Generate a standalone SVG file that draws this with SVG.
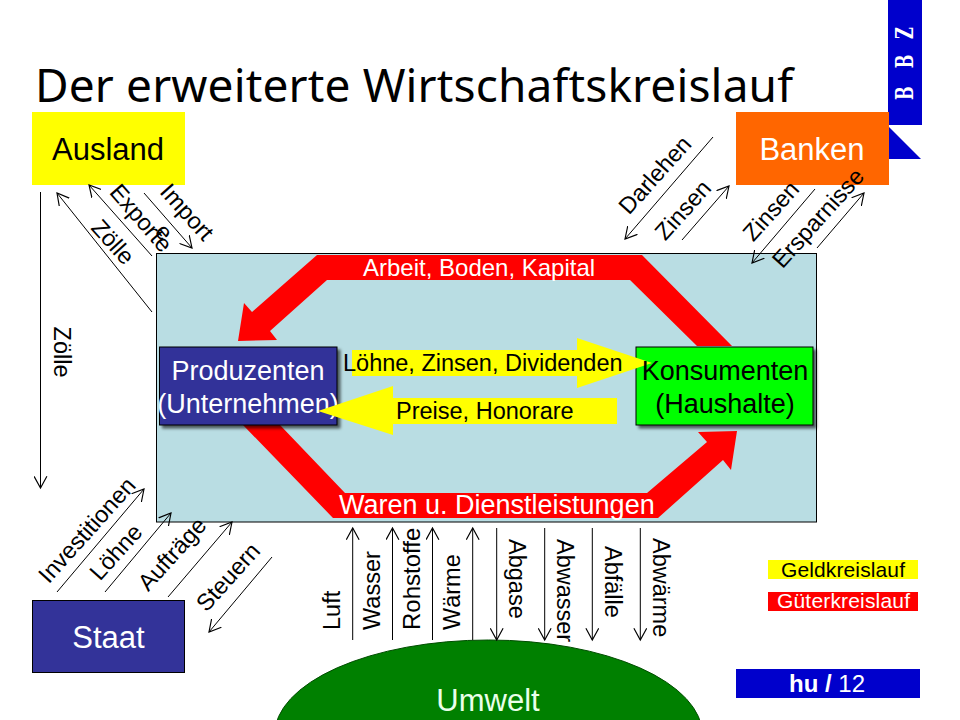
<svg xmlns="http://www.w3.org/2000/svg" width="960" height="720" viewBox="0 0 960 720">
<style>
text{font-family:"Liberation Sans",Arial,sans-serif;font-size:23.500px;fill:#000}
.big{font-size:31px;text-anchor:middle}
.mid{font-size:27px;text-anchor:middle}
.leg{font-size:21px}
.c{text-anchor:middle}
.w{fill:#fff}
.l{fill:none;stroke:#000;stroke-width:1;marker-end:url(#a)}
</style>
<defs>
<marker id="a" markerUnits="userSpaceOnUse" markerWidth="14" markerHeight="14" refX="10" refY="6" orient="auto" viewBox="0 0 12 12"><path d="M0 0.5L10 6L0 11.5" fill="none" stroke="#000" stroke-width="1"/></marker>
<filter id="s" x="-10%" y="-10%" width="125%" height="130%"><feDropShadow dx="3" dy="3" stdDeviation="1.5" flood-color="#000" flood-opacity=".6"/></filter>
</defs>
<rect width="960" height="720" fill="#fff"/>
<text id="title" x="35" y="102" style="font-family:'Noto Sans','DejaVu Sans',sans-serif;font-size:46px" textLength="758">Der erweiterte Wirtschaftskreislauf</text>
<g id="logo">
<rect x="888" y="0" width="34" height="125" fill="#0000cc"/>
<path d="M889 127L921 159H889Z" fill="#0000cc"/>
<text transform="translate(913,100) rotate(-90) scale(.65,1)" style="font-family:'DejaVu Serif',serif;font-weight:bold;font-size:25px" class="w" x="0 49 94">BBZ</text>
</g>
<g id="kreislauf">
<rect x="156.5" y="253.5" width="660" height="268.5" fill="#b9dde3" stroke="#000"/>
<path id="top-arrow" d="M317 255H642L732 346H697L630 280H327L270 331L277 340L238 341L244 303L252 312Z" fill="#f00"/>
<path id="bottom-arrow" d="M243 425H280L345 493H647L707 442L698 432L737 431L731 470L723 460L658 518H333Z" fill="#f00"/>
<text class="w" x="363" y="276" style="font-size:24px">Arbeit, Boden, Kapital</text>
<text class="w" x="339" y="514" style="font-size:27px">Waren u. Dienstleistungen</text>
</g>
<g id="produzenten">
<rect x="159.5" y="347" width="177.5" height="78" fill="#333399" stroke="#000" filter="url(#s)"/>
<text class="mid w" x="248" y="380">Produzenten</text>
<text class="mid w" x="248" y="413">(Unternehmen)</text>
</g>
<g id="konsumenten">
<rect x="636" y="347" width="177" height="78" fill="#00ff00" stroke="#000" filter="url(#s)"/>
</g>
<g id="geldstrom">
<path id="yellow-right" d="M352 350H577V338L652 363L577 388V376H352Z" fill="#ff0"/>
<path id="yellow-left" d="M617 398H393V386L318 411L393 435V424H617Z" fill="#ff0"/>
<text x="343" y="371">Löhne, Zinsen, Dividenden</text>
<text x="396" y="419">Preise, Honorare</text>
</g>
<g id="konsumenten-text">
<text class="mid" x="725" y="380">Konsumenten</text>
<text class="mid" x="725" y="413">(Haushalte)</text>
</g>
<g id="ausland"><rect x="32" y="112" width="153" height="73" fill="#ff0"/><text class="big" x="108" y="160">Ausland</text></g>
<g id="banken"><rect x="736" y="112" width="153" height="73" fill="#ff6600"/><text class="big w" x="812" y="160">Banken</text></g>
<g id="staat"><rect x="32.5" y="600.5" width="152" height="72" fill="#333399" stroke="#000"/><text class="big w" x="108.5" y="648">Staat</text></g>
<g id="umwelt"><ellipse cx="488.5" cy="735" rx="214" ry="95" fill="#008000" stroke="#004d00"/><text class="big" style="fill:#eaffea" x="488" y="711">Umwelt</text></g>
<g id="connectors">
<path class="l" d="M40.5 192V488"/>
<path class="l" d="M152 312L57 193"/>
<path class="l" d="M152 256L89 185"/>
<path class="l" d="M144 193L192 248"/>
<path class="l" d="M713 137L625 239"/>
<path class="l" d="M682 240L729 186"/>
<path class="l" d="M815 189L752 263"/>
<path class="l" d="M817 248L864 193"/>
<path class="l" d="M57 592L144 489"/>
<path class="l" d="M105 592L171 513"/>
<path class="l" d="M168 597L232 522"/>
<path class="l" d="M272 557L209 632"/>
<path class="l" d="M352.700 640V528"/>
<path class="l" d="M392.500 640V528"/>
<path class="l" d="M432.500 640V528"/>
<path class="l" d="M472.700 640V528"/>
<path class="l" d="M496.700 528V640"/>
<path class="l" d="M544.700 528V640"/>
<path class="l" d="M592.300 528V640"/>
<path class="l" d="M640.300 528V640"/>
</g>
<g id="labels">
<text class="c" transform="translate(187,212) rotate(48)" dy="8">Import</text>
<text class="c" transform="translate(141,218) rotate(49)" dy="8">Exporte</text>
<text class="c" transform="translate(164,232) rotate(49)" dy="8">e</text>
<text class="c" transform="translate(113,242) rotate(48)" dy="8">Zölle</text>
<text class="c" transform="translate(62,352) rotate(90)" dy="8">Zölle</text>
<text class="c" transform="translate(655,175) rotate(-48)" dy="8">Darlehen</text>
<text class="c" transform="translate(683,210) rotate(-48)" dy="8">Zinsen</text>
<text class="c" transform="translate(771,211) rotate(-48)" dy="8">Zinsen</text>
<text class="c" transform="translate(818,218) rotate(-48)" dy="8">Ersparnisse</text>
<text class="c" transform="translate(87,530) rotate(-48)" dy="8">Investitionen</text>
<text class="c" transform="translate(116,552) rotate(-48)" dy="8">Löhne</text>
<text class="c" transform="translate(172,554) rotate(-48)" dy="8">Aufträge</text>
<text class="c" transform="translate(228,577) rotate(-48)" dy="8">Steuern</text>
<text transform="translate(340,630) rotate(-90)">Luft</text>
<text transform="translate(380,630) rotate(-90)">Wasser</text>
<text transform="translate(420,630) rotate(-90)" style="font-size:24px">Rohstoffe</text>
<text transform="translate(460,630) rotate(-90)">Wärme</text>
<text transform="translate(509,539) rotate(90)">Abgase</text>
<text transform="translate(557,539) rotate(90)">Abwasser</text>
<text transform="translate(605,546) rotate(90)">Abfälle</text>
<text transform="translate(653,538) rotate(90)">Abwärme</text>
</g>
<g id="legend">
<rect x="768" y="560" width="150" height="19" fill="#ff0"/>
<text class="leg" x="781" y="577" textLength="124">Geldkreislauf</text>
<rect x="768" y="592" width="150" height="19" fill="#f00"/>
<text class="leg w" x="777" y="608" textLength="133">Güterkreislauf</text>
</g>
<g id="page">
<rect x="736" y="669" width="184" height="29" fill="#0000cc"/>
<text class="w" x="789" y="692" style="font-size:24px"><tspan font-weight="bold">hu /</tspan> 12</text>
</g>
</svg>
